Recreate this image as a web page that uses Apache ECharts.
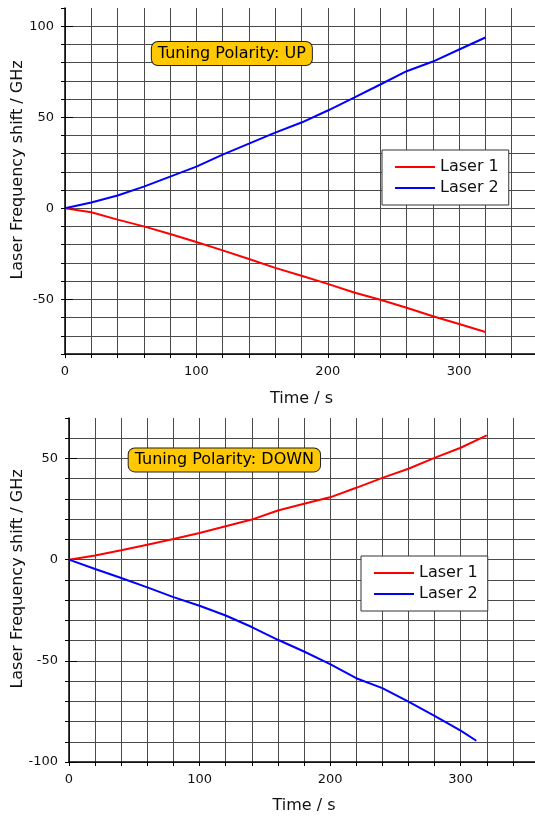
<!DOCTYPE html>
<html>
<head>
<meta charset="utf-8">
<script src="https://cdn.jsdelivr.net/npm/echarts@6/dist/echarts.min.js"></script>
<style>
  html, body { margin: 0; padding: 0; background: #fff; }
  #chart { width: 535px; height: 819px; }
</style>
</head>
<body>
<div id="chart"></div>
<script>
// 时间轴 (s)
var time = [0, 20, 40, 60, 80, 100, 120, 140, 160, 180, 200, 220, 240, 260, 280, 300, 320];
var timeDown2 = [0, 20, 40, 60, 80, 100, 120, 140, 160, 180, 200, 220, 240, 260, 280, 300, 312];

// Tuning Polarity: UP
var upLaser1 = [0, -2.2, -6.2, -9.9, -14.1, -18.5, -23.1, -27.8, -32.7, -37, -41.5, -46.2, -50.2, -54.6, -59.3, -63.5, -67.9];
var upLaser2 = [0, 3.2, 7.0, 11.9, 17.4, 22.9, 29.5, 35.5, 41.6, 47.1, 53.7, 60.8, 68, 75.3, 80.6, 87.2, 93.8];

// Tuning Polarity: DOWN
var downLaser1 = [0, 2.1, 4.6, 7.4, 10.2, 13.2, 16.5, 19.8, 24.3, 27.6, 30.8, 35.5, 40.4, 44.9, 50.3, 55.3, 61.4];
var downLaser2 = [0, -4.6, -9.1, -13.7, -18.5, -22.8, -27.6, -33.3, -39.6, -45.4, -51.6, -58.6, -63.5, -70.2, -77.2, -84.5, -89.5];

var seriesNames = ["Laser 1", "Laser 2"];
var notes = ["Tuning Polarity: UP", "Tuning Polarity: DOWN"];
var notePos = [[127, 85], [119, 49.3]];

var xLabels = [0, 100, 200, 300];
var yLabelsUp = [-50, 0, 50, 100];
var yLabelsDown = [-100, -50, 0, 50];

let fontFamily = "DejaVu Sans";

function pairs(xs, ys) {
    return xs.map((x, i) => [x, ys[i]]);
}

function xAxisFor(grid, gap) {
    return {
        type: "value",
        gridIndex: grid,
        min: 0,
        max: 360,
        interval: 20,
        name: "Time / s",
        nameLocation: "middle",
        nameGap: gap,
        nameMoveOverlap: false,
        nameTextStyle: { fontSize: 16, color: "#111", fontFamily: fontFamily },
        axisLine: { onZero: false, lineStyle: { color: "#000", width: 1.5 } },
        axisTick: { length: 4, lineStyle: { color: "#000" } },
        axisLabel: {
            customValues: xLabels,
            fontSize: 13,
            color: "#111",
            fontFamily: fontFamily,
            margin: 11,
        },
        splitLine: { show: true, lineStyle: { color: "#4a4a4a", width: 1 } },
    };
}

function yAxisFor(grid, min, max, labels, gap) {
    return {
        type: "value",
        gridIndex: grid,
        min: min,
        max: max,
        interval: 10,
        name: "Laser Frequency shift / GHz",
        nameLocation: "middle",
        nameGap: gap,
        nameMoveOverlap: false,
        nameTextStyle: {
            fontSize: 16,
            color: "#111",
            fontFamily: fontFamily,
            padding: [0, 0, 0, 22],
        },
        axisLine: { onZero: false, lineStyle: { color: "#000", width: 1.5 } },
        axisTick: { length: 4, lineStyle: { color: "#000" } },
        axisLabel: {
            customValues: labels,
            fontSize: 13,
            color: "#111",
            fontFamily: fontFamily,
            margin: 11,
        },
        splitLine: {
            show: true,
            showMaxLine: false,
            lineStyle: { color: "#4a4a4a", width: 1 },
        },
    };
}

// 主刻度 (每 50) 更长
function majorTicks(grid, min, max, labels) {
    return {
        type: "value",
        gridIndex: grid,
        min: min,
        max: max,
        interval: 10,
        axisLine: { show: false },
        axisTick: { length: 8, customValues: labels, lineStyle: { color: "#000" } },
        axisLabel: { show: false },
        splitLine: { show: false },
    };
}

function lineSeries(name, color, xi, yi, data) {
    return {
        type: "line",
        name: name,
        xAxisIndex: xi,
        yAxisIndex: yi,
        data: data,
        symbol: "none",
        lineStyle: { color: color, width: 2 },
        itemStyle: { color: color },
        z: 5,
    };
}

function noteSeries(xi, yi, pos, text) {
    return {
        type: "scatter",
        name: "note",
        xAxisIndex: xi,
        yAxisIndex: yi,
        data: [pos],
        symbolSize: 0,
        silent: true,
        z: 6,
        itemStyle: { opacity: 1 },
        label: {
            show: true,
            position: "inside",
            formatter: text,
            fontSize: 16,
            fontFamily: fontFamily,
            color: "#000",
            opacity: 1,
            backgroundColor: "#ffc800",
            borderColor: "#222",
            borderWidth: 1,
            borderRadius: 6,
            padding: [4, 6, 3, 6],
        },
    };
}

function legendAt(left, top) {
    return {
        data: seriesNames.map((n) => ({ name: n, icon: "rect" })),
        orient: "vertical",
        left: left,
        top: top,
        backgroundColor: "#fff",
        borderColor: "#333",
        borderWidth: 1,
        borderRadius: 0,
        padding: [9, 10, 9, 13],
        itemGap: 5,
        itemWidth: 40,
        itemHeight: 2,
        selectedMode: false,
        textStyle: { fontSize: 16, color: "#111", fontFamily: fontFamily, lineHeight: 16 },
    };
}

let myChart = echarts.init(document.getElementById("chart"), null, { renderer: "canvas" });
let option = {
    animation: false,
    backgroundColor: "#fff",
    textStyle: { fontFamily: fontFamily },
    grid: [
        { left: 65, top: 8, width: 473, height: 346, containLabel: false, outerBoundsMode: "none" },
        { left: 69, top: 418, width: 470, height: 344, containLabel: false, outerBoundsMode: "none" },
    ],
    xAxis: [xAxisFor(0, 37), xAxisFor(1, 36)],
    yAxis: [
        yAxisFor(0, -80, 110, yLabelsUp, 39.5),
        yAxisFor(1, -100, 70, yLabelsDown, 43.5),
        majorTicks(0, -80, 110, yLabelsUp),
        majorTicks(1, -100, 70, yLabelsDown),
    ],
    legend: [legendAt(382, 150), legendAt(361, 556)],
    series: [
        lineSeries(seriesNames[0], "#ff0000", 0, 0, pairs(time, upLaser1)),
        lineSeries(seriesNames[1], "#0000ff", 0, 0, pairs(time, upLaser2)),
        lineSeries(seriesNames[0], "#ff0000", 1, 1, pairs(time, downLaser1)),
        lineSeries(seriesNames[1], "#0000ff", 1, 1, pairs(timeDown2, downLaser2)),
        noteSeries(0, 0, notePos[0], notes[0]),
        noteSeries(1, 1, notePos[1], notes[1]),
    ],
};
myChart.setOption(option);
</script>
</body>
</html>
